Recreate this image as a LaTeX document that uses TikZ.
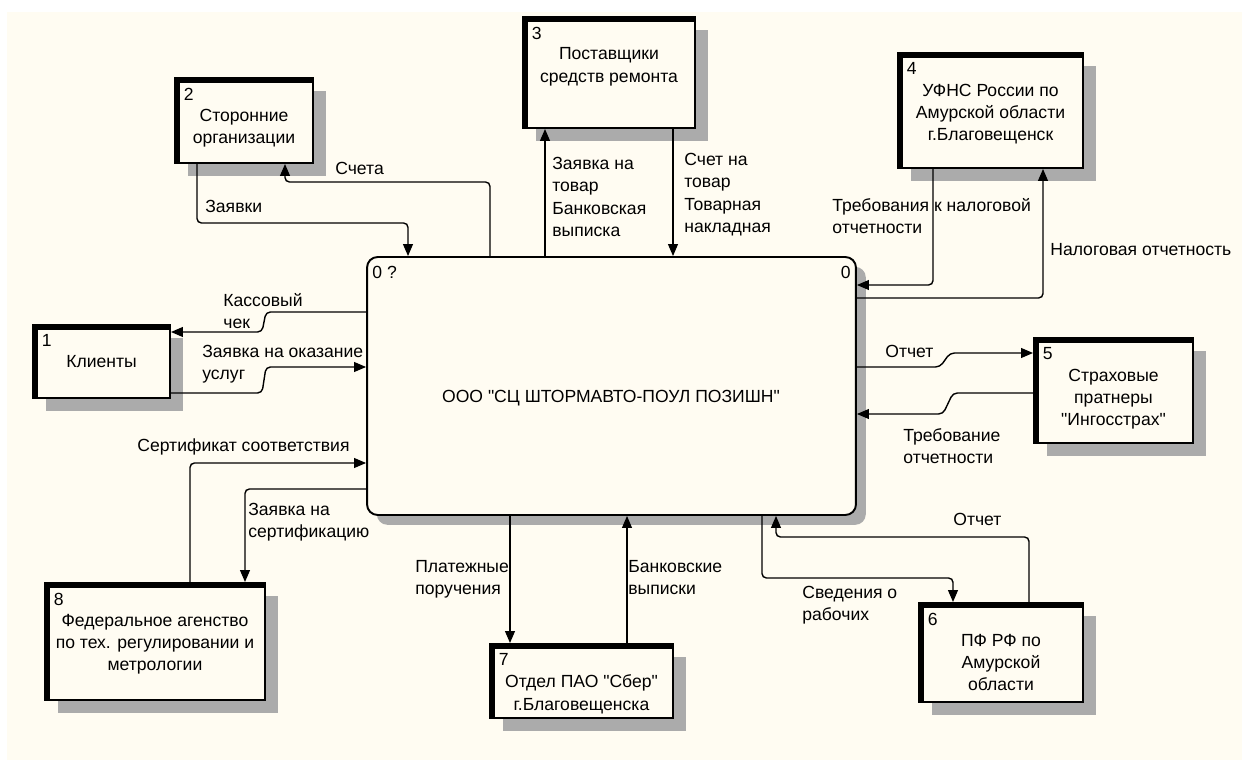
\documentclass[tikz,border=0pt]{standalone}
\usepackage{fontspec}
\setmainfont{Liberation Sans}[Ligatures=TeXOff]
\usetikzlibrary{positioning,arrows.meta,shadows}
\definecolor{cream}{HTML}{FFFCF2}
\definecolor{shade}{HTML}{ABABAB}
\tikzset{
  ext/.style={draw, line width=1.1pt, fill=cream, inner sep=0pt,
    drop shadow={shadow xshift=7.4pt, shadow yshift=-7.4pt, fill=shade, opacity=1}},
  proc/.style={draw, line width=1.1pt, fill=cream, inner sep=0pt, rounded corners=6pt,
    drop shadow={shadow xshift=5.6pt, shadow yshift=-5.6pt, fill=shade, opacity=1}},
  boxnum/.style={inner sep=0pt},
  boxtext/.style={inner sep=0pt, align=center},
  lbl/.style={inner sep=0pt, align=left, anchor=north west},
  flow/.style={-{Triangle[length=6.8pt,width=5.6pt]}, line width=0.8pt, rounded corners=2.5pt}
}
\begin{document}
\begin{tikzpicture}[x=0.02cm, y=-0.02cm, font=\fontsize{10}{12.7}\selectfont]
    \useasboundingbox (0,0) rectangle (1242,760);
    \fill[white] (0,0) rectangle (1242,760);
    \fill[cream] (7,12) rectangle (1242,760);

    \node (main) [proc, minimum width=9.78cm, minimum height=5.16cm] at (611.5,386) {};
    \node (mainn) [boxnum, below right=0.2cm and 0.12cm of main.north west] {0 ?};
    \node (mainr) [boxnum, below left=0.2cm and 0.12cm of main.north east] {0};
    \node (maint) at (611,398) {ООО "СЦ ШТОРМАВТО-ПОУЛ ПОЗИШН"};

    \node (b1) [ext, minimum width=2.74cm, minimum height=1.46cm] at (101.5,361.5) {};
    \node (b2) [ext, minimum width=2.76cm, minimum height=1.70cm] at (244,120.5) {};
    \node (b3) [ext, minimum width=3.44cm, minimum height=2.22cm] at (609,72.5) {};
    \node (b4) [ext, minimum width=3.70cm, minimum height=2.30cm] at (990.5,110.5) {};
    \node (b5) [ext, minimum width=3.18cm, minimum height=2.10cm] at (1113.5,390.5) {};
    \node (b6) [ext, minimum width=3.28cm, minimum height=1.98cm] at (1001,652.5) {};
    \node (b7) [ext, minimum width=3.66cm, minimum height=1.48cm] at (581.5,681) {};
    \node (b8) [ext, minimum width=4.40cm, minimum height=2.34cm] at (155,641.5) {};

    \foreach \b/\n in {b1/1,b2/2,b3/3,b4/4,b5/5,b6/6,b7/7,b8/8} {
        \fill (\b.north west) rectangle ([yshift=-3.4pt]\b.north east);
        \fill (\b.north west) rectangle ([xshift=3.4pt]\b.south west);
        \node (\b n) [boxnum, below right=0.21cm and 0.19cm of \b.north west] {\n};
    }

    \node (b1t) [boxtext, below=0.63cm of b1.north] {Клиенты};
    \node (b2t) [boxtext, below=0.63cm of b2.north] {Сторонние\\организации};
    \node (b3t) [boxtext, below=0.63cm of b3.north] {Поставщики\\средств ремонта};
    \node (b4t) [boxtext, below=0.63cm of b4.north] {УФНС России по\\Амурской области\\г.Благовещенск};
    \node (b5t) [boxtext, below=0.63cm of b5.north] {Страховые\\пратнеры\\"Ингосстрах"};
    \node (b6t) [boxtext, below=0.63cm of b6.north] {ПФ РФ по\\Амурской\\области};
    \node (b7t) [boxtext, below=0.63cm of b7.north] {Отдел ПАО "Сбер"\\г.Благовещенска};
    \node (b8t) [boxtext, below=0.63cm of b8.north] {Федеральное агенство\\по тех. регулировании и\\метрологии};

    \draw[flow] (main.west |- 0,312) -- (266,312) -- (262,332) -- (b1.east |- 0,332);
    \draw[flow] (b1.east |- 0,393) -- (262,393) -- (266,367) -- (main.west |- 0,367);
    \draw[flow] (197,0 |- b2.south) -- (197,223) -- (408,223) -- (408,0 |- main.north);
    \draw[flow] (490,0 |- main.north) -- (490,182) -- (285,182) -- (285,0 |- b2.south);
    \draw[flow] (545,0 |- main.north) -- (545,0 |- b3.south);
    \draw[flow] (673,0 |- b3.south) -- (673,0 |- main.north);
    \draw[flow] (933,0 |- b4.south) -- (933,285) -- (main.east |- 0,285);
    \draw[flow] (main.east |- 0,298) -- (1043,298) -- (1043,0 |- b4.south);
    \draw[flow] (main.east |- 0,367) -- (940,367) -- (950,353) -- (b5.west |- 0,353);
    \draw[flow] (b5.west |- 0,393) -- (953,393) -- (943,414) -- (main.east |- 0,414);
    \draw[flow] (190,0 |- b8.north) -- (190,463) -- (main.west |- 0,463);
    \draw[flow] (main.west |- 0,489) -- (245,489) -- (245,0 |- b8.north);
    \draw[flow] (510,0 |- main.south) -- (510,0 |- b7.north);
    \draw[flow] (627,0 |- b7.north) -- (627,0 |- main.south);
    \draw[flow] (762,0 |- main.south) -- (762,578) -- (953,578) -- (953,0 |- b6.north);
    \draw[flow] (1029,0 |- b6.north) -- (1029,537) -- (776,537) -- (776,0 |- main.south);

    \node (l1) [lbl] at (223,293) {Кассовый\\чек};
    \node (l2) [lbl] at (202,345) {Заявка на оказание\\услуг};
    \node (l3) [lbl] at (205,200) {Заявки};
    \node (l4) [lbl] at (335,162) {Счета};
    \node (l5) [lbl] at (552,157) {Заявка на\\товар\\Банковская\\выписка};
    \node (l6) [lbl] at (684,153) {Счет на\\товар\\Товарная\\накладная};
    \node (l7) [lbl] at (832,198) {Требования к налоговой\\отчетности};
    \node (l8) [lbl] at (1050,243) {Налоговая отчетность};
    \node (l9) [lbl] at (885,345) {Отчет};
    \node (l10) [lbl] at (903,428) {Требование\\отчетности};
    \node (l11) [lbl] at (137,438) {Сертификат соответствия};
    \node (l12) [lbl] at (248,503) {Заявка на\\сертификацию};
    \node (l13) [lbl] at (415,560) {Платежные\\поручения};
    \node (l14) [lbl] at (628,560) {Банковские\\выписки};
    \node (l15) [lbl] at (802,586) {Сведения о\\рабочих};
    \node (l16) [lbl] at (953,513) {Отчет};
\end{tikzpicture}
\end{document}
